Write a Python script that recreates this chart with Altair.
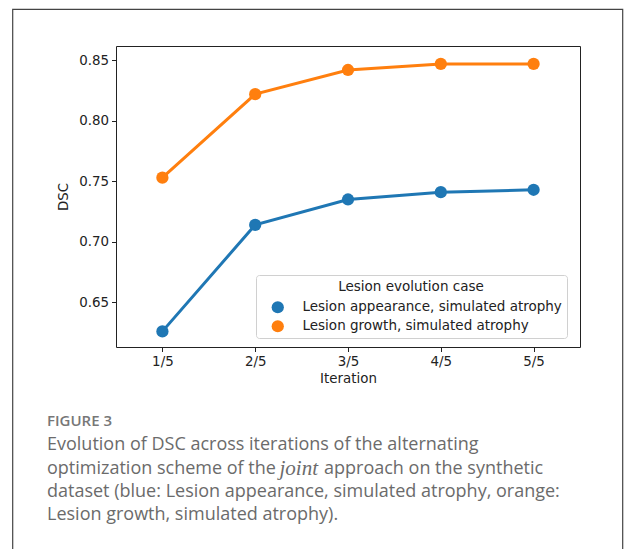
import altair as alt
import pandas as pd

iterations = ["1/5", "2/5", "3/5", "4/5", "5/5"]
appearance = [0.626, 0.714, 0.735, 0.741, 0.743]
growth = [0.753, 0.822, 0.842, 0.847, 0.847]
series_names = ["Lesion appearance, simulated atrophy", "Lesion growth, simulated atrophy"]
series_colors = ["#1f77b4", "#ff7f0e"]
y_ticks = [0.65, 0.70, 0.75, 0.80, 0.85]

rows = []
for it, a, g in zip(iterations, appearance, growth):
    rows.append({"Iteration": it, "DSC": a, "case": series_names[0]})
    rows.append({"Iteration": it, "DSC": g, "case": series_names[1]})
df = pd.DataFrame(rows)

PL, PT = 116, 46  # plot area offset
W, H = 464, 301
AX_FONT = "DejaVu Sans, Verdana, sans-serif"

x_enc = alt.X("Iteration:O", sort=iterations,
              scale=alt.Scale(type="point", padding=0.5),
              axis=alt.Axis(title="Iteration", labelAngle=0))
y_enc = alt.Y("DSC:Q", scale=alt.Scale(domain=[0.6131, 0.8618], zero=False, nice=False),
              axis=alt.Axis(title="DSC", values=y_ticks, format=".2f"))
color_scale = alt.Scale(domain=series_names, range=series_colors)
legend = alt.Legend(title="Lesion evolution case", orient="none",
                    legendX=256 - PL, legendY=275 - PT,
                    titleAnchor="middle", symbolType="circle",
                    symbolSize=150, symbolStrokeWidth=0,
                    strokeColor="#d0d0d0", fillColor="white",
                    cornerRadius=3, padding=5, rowPadding=4, symbolOffset=10,
                    titlePadding=7, labelFontSize=13.5, titleFontSize=13.5,
                    titleFontWeight="normal", labelOffset=18,
                    titleColor="#222", labelColor="#222",
                    labelFont=AX_FONT, titleFont=AX_FONT,
                    labelLimit=400)

lines = alt.Chart(df).mark_line(strokeWidth=3).encode(
    x=x_enc, y=y_enc,
    color=alt.Color("case:N", scale=color_scale, legend=legend),
)
points = alt.Chart(df).mark_point(filled=True, size=150, opacity=1).encode(
    x=x_enc, y=y_enc,
    color=alt.Color("case:N", scale=color_scale, legend=legend),
)

one = alt.Data(values=[{"a": 1}])

frame = alt.Chart(one).mark_rect(fill=None, stroke="#444", strokeWidth=1.2).encode(
    x=alt.value(12.7 - PL), x2=alt.value(622.7 - PL),
    y=alt.value(9.3 - PT), y2=alt.value(620 - PT),
)

cap_color = "#6b6b6b"
cap_font = "Open Sans"
cap_size = 18

def txt(s, x, y, **kw):
    params = dict(align="left", baseline="middle", font=cap_font, fontSize=cap_size, color=cap_color)
    params.update(kw)
    return alt.Chart(one).mark_text(text=s, **params).encode(
        x=alt.value(x - PL), y=alt.value(y - PT))

caption = [
    txt("FIGURE 3", 47, 421, fontSize=15, color="#777", fontWeight=600),
    txt("Evolution of DSC across iterations of the alternating", 47, 445),
    txt("optimization scheme of the", 47, 468.5),
    txt("joint", 279.5, 468.5, font="Liberation Serif", fontStyle="italic", fontSize=21),
    txt("approach on the synthetic", 324, 468.5),
    txt("dataset (blue: Lesion appearance, simulated atrophy, orange:", 47, 492),
    txt("Lesion growth, simulated atrophy).", 47, 515),
]

chart = alt.layer(frame, lines, points, *caption).properties(
    width=W, height=H,
    autosize=alt.AutoSizeParams(type="none"),
    padding={"left": PL, "top": PT, "right": 625 - PL - W, "bottom": 549 - PT - H},
    background="white",
).configure_view(stroke="#222", strokeWidth=1).configure_axis(
    domain=False, grid=False, tickColor="#222", tickSize=4.5, tickWidth=1,
    labelFont=AX_FONT, labelFontSize=13.4, labelColor="#222", labelPadding=3,
    titleFont=AX_FONT, titleFontSize=13.4, titleFontWeight="normal", titleColor="#222",
).configure_axisY(titlePadding=8).configure_axisX(titlePadding=4)

chart.save("out.html", embed_options={"renderer": "svg", "actions": False})
